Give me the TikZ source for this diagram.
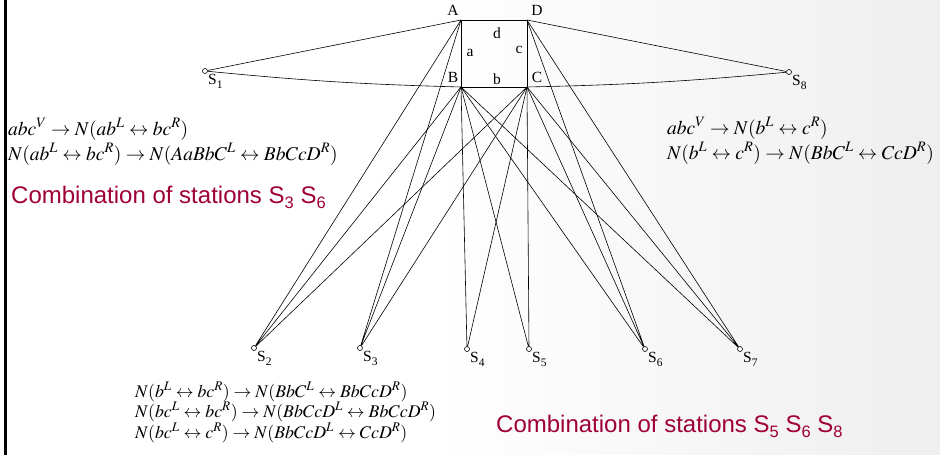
\documentclass[tikz,border=0pt]{standalone}
\usepackage{mathptmx}
\usepackage[no-math]{fontspec}
\setmainfont{Liberation Serif}
\newfontfamily\arialf{Liberation Sans}
\definecolor{crim}{RGB}{160,0,58}
\begin{document}
\begin{tikzpicture}[x=1pt,y=-1pt,
  edge/.style={line width=0.6pt},
  stn/.style={circle,draw,line width=0.6pt,fill=white,inner sep=0pt,minimum size=5pt},
  lbl/.style={font=\fontsize{15.5}{17}\selectfont,inner sep=0pt},
  formula/.style={font=\fontsize{19.5}{22}\selectfont,anchor=base west,inner sep=0pt},
  formulab/.style={font=\fontsize{17.8}{20}\selectfont,anchor=base west,inner sep=0pt},
  combo/.style={font=\arialf\fontsize{24}{28}\selectfont,text=crim,anchor=base west,inner sep=0pt}]
\useasboundingbox (0,0) rectangle (940,455);
\fill[white] (0,0) rectangle (940,455);
\shade[left color=white,right color=gray!13] (430,0) rectangle (940,455);
\fill[black] (4,0) rectangle (6.5,455);
% corners
\coordinate (A) at (461,20);
\coordinate (D) at (527,20);
\coordinate (B) at (461,87);
\coordinate (C) at (527,87);
\node[lbl] (lA) at (453,10) {A};
\node[lbl] (lD) at (537,10) {D};
\node[lbl] (lB) at (453,77) {B};
\node[lbl] (lC) at (537,77) {C};
\node[lbl] (la) at (470,53) {a};
\node[lbl] (lc) at (519,50) {c};
\node[lbl] (ld) at (497,33) {d};
\node[lbl] (lb) at (497,79) {b};
% stations
\node[stn] (S1) at (205,71) {};
\node[stn] (S8) at (789,72) {};
\node[stn] (S2) at (254,348) {};
\node[stn] (S3) at (360,348) {};
\node[stn] (S4) at (467,349) {};
\node[stn] (S5) at (529,349) {};
\node[stn] (S6) at (645,349) {};
\node[stn] (S7) at (740,349) {};
\foreach \i in {1,...,8}{\node[lbl,anchor=north west] (tS\i) at ([xshift=1pt,yshift=-1pt]S\i.south east) {S\raisebox{-0.5ex}{\fontsize{11.5}{13}\selectfont\i}};}
% square
\draw[edge] (A) -- (D) -- (C) -- (B) -- cycle;
% edges
\draw[edge] (S1) -- (A) (S8) -- (D);
\draw[edge] (S1) to[bend right=2] (B);
\draw[edge] (C) to[bend right=2] (S8);
\draw[edge] (S2) -- (A) (S2) -- (B) (S2) -- (C);
\draw[edge] (S3) -- (A) (S3) -- (B) (S3) -- (C);
\draw[edge] (S4) -- (B) (S4) -- (C);
\draw[edge] (S5) -- (B) (S5) -- (C);
\draw[edge] (S6) -- (B) (S6) -- (C) (S6) -- (D);
\draw[edge] (S7) -- (B) (S7) -- (C) (S7) -- (D);
% formulas
\node[formula] (f1) at (8,135) {$abc^{V} \rightarrow N(ab^{L} \leftrightarrow bc^{R})$};
\node[formula] (f2) at (8,160) {$N(ab^{L} \leftrightarrow bc^{R}) \rightarrow N(AaBbC^{L} \leftrightarrow BbCcD^{R})$};
\node[combo] (c1) at (11,203) {Combination of stations S\raisebox{-0.4ex}{\fontsize{16.5}{18}\selectfont 3} S\raisebox{-0.4ex}{\fontsize{16.5}{18}\selectfont 6}};
\node[formula] (f3) at (667,134) {$abc^{V} \rightarrow N(b^{L} \leftrightarrow c^{R})$};
\node[formula] (f4) at (667,159) {$N(b^{L} \leftrightarrow c^{R}) \rightarrow N(BbC^{L} \leftrightarrow CcD^{R})$};
\node[formulab] (f5) at (135,397) {$N(b^{L} \leftrightarrow bc^{R}) \rightarrow N(BbC^{L} \leftrightarrow BbCcD^{R})$};
\node[formulab] (f6) at (135,417) {$N(bc^{L} \leftrightarrow bc^{R}) \rightarrow N(BbCcD^{L} \leftrightarrow BbCcD^{R})$};
\node[formulab] (f7) at (135,438) {$N(bc^{L} \leftrightarrow c^{R}) \rightarrow N(BbCcD^{L} \leftrightarrow CcD^{R})$};
\node[combo] (c2) at (496,432) {Combination of stations S\raisebox{-0.4ex}{\fontsize{16.5}{18}\selectfont 5} S\raisebox{-0.4ex}{\fontsize{16.5}{18}\selectfont 6} S\raisebox{-0.4ex}{\fontsize{16.5}{18}\selectfont 8}};
\end{tikzpicture}
\end{document}
